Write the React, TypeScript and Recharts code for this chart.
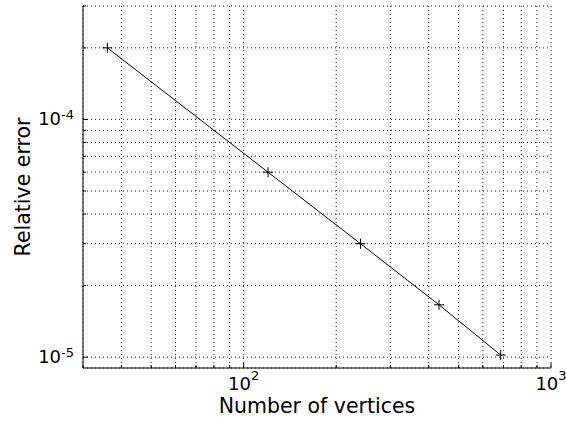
import React from 'react';
import { LineChart, Line, XAxis, YAxis, CartesianGrid } from 'recharts';

// Convergence study: relative error vs mesh size
const vertices = [36, 120, 240, 432, 686];
const relErrors = [2.0e-4, 6.0e-5, 3.0e-5, 1.66e-5, 1.02e-5];

const xTicks = [30, 40, 50, 60, 70, 80, 90, 100, 200, 300, 400, 500, 600, 700, 800, 900, 1000];
const yTicks = [1e-5, 2e-5, 3e-5, 4e-5, 5e-5, 6e-5, 7e-5, 8e-5, 9e-5, 1e-4, 2e-4, 3e-4];
const xDomain = [30, 1000];
const yDomain = [9e-6, 3e-4];

const data = vertices.map((n, i) => ({ n, err: relErrors[i] }));

const FONT = 'DejaVu Sans, sans-serif';
const MAJOR = 5;
const MINOR = 3;

const exponentOf = (v: number) => {
  const e = Math.log10(v);
  return Math.abs(e - Math.round(e)) < 1e-9 ? Math.round(e) : null;
};

const BottomTick = (props: any) => {
  const { x, y, payload } = props;
  const e = exponentOf(payload.value);
  const axisY = y - 2;
  return (
    <g>
      <line x1={x} x2={x} y1={axisY} y2={axisY - (e !== null ? MAJOR : MINOR)} stroke="#000" />
      {e !== null && (
        <text x={x} y={axisY + 22} textAnchor="middle" fontSize={18} fontFamily={FONT} fill="#000">
          <tspan>10</tspan>
          <tspan dy={-10} fontSize={13}>{e}</tspan>
        </text>
      )}
    </g>
  );
};

const LeftTick = (props: any) => {
  const { x, y, payload } = props;
  const e = exponentOf(payload.value);
  const axisX = x + 2;
  return (
    <g>
      <line x1={axisX} x2={axisX + (e !== null ? MAJOR : MINOR)} y1={y} y2={y} stroke="#000" />
      {e !== null && (
        <text x={axisX - 9} y={y + 6} textAnchor="end" fontSize={18} fontFamily={FONT} fill="#000">
          <tspan>10</tspan>
          <tspan dy={-6} fontSize={13}>{e}</tspan>
        </text>
      )}
    </g>
  );
};

const TopTick = (props: any) => {
  const { x, y, payload } = props;
  const len = exponentOf(payload.value) !== null ? MAJOR : MINOR;
  return <line x1={x} x2={x} y1={y} y2={y + len} stroke="#000" />;
};

const RightTick = (props: any) => {
  const { x, y, payload } = props;
  const len = exponentOf(payload.value) !== null ? MAJOR : MINOR;
  return <line x1={x} x2={x - len} y1={y} y2={y} stroke="#000" />;
};

const PlusDot = (props: any) => {
  const { cx, cy } = props;
  if (cx == null || cy == null) return null;
  return (
    <g stroke="#000" strokeWidth={1}>
      <line x1={cx - 5} x2={cx + 5} y1={cy} y2={cy} />
      <line x1={cx} x2={cx} y1={cy - 5} y2={cy + 5} />
    </g>
  );
};

export default function App() {
  return (
    <div style={{ position: 'absolute', left: 0, top: 0, width: 566, height: 423, background: '#fff' }}>
      <LineChart width={566} height={423} data={data} margin={{ top: 6, right: 15, bottom: 0, left: 0 }}>
        <CartesianGrid stroke="#222" strokeDasharray="1 3" />
        <XAxis
          dataKey="n"
          type="number"
          scale="log"
          domain={xDomain}
          ticks={xTicks}
          interval={0}
          allowDataOverflow
          height={55}
          tickSize={0}
          tickMargin={2}
          tickLine={false}
          axisLine={{ stroke: '#000' }}
          tick={<BottomTick />}
          label={(p: any) => {
            const vb = p.viewBox;
            return (
              <text x={vb.x + vb.width / 2} y={vb.y + 45} textAnchor="middle" fontSize={20.5} fontFamily={FONT} fill="#000">
                Number of vertices
              </text>
            );
          }}
        />
        <XAxis
          xAxisId="top"
          orientation="top"
          type="number"
          scale="log"
          domain={xDomain}
          ticks={xTicks}
          interval={0}
          allowDataOverflow
          height={0}
          tickSize={0}
          tickMargin={0}
          tickLine={false}
          axisLine={{ stroke: '#000' }}
          tick={<TopTick />}
        />
        <YAxis
          type="number"
          scale="log"
          domain={yDomain}
          ticks={yTicks}
          interval={0}
          allowDataOverflow
          width={83}
          tickSize={0}
          tickMargin={2}
          tickLine={false}
          axisLine={{ stroke: '#000' }}
          tick={<LeftTick />}
          label={(p: any) => {
            const vb = p.viewBox;
            const cy = vb.y + vb.height / 2;
            return (
              <text
                x={vb.x + 30}
                y={cy}
                transform={`rotate(-90 ${vb.x + 30} ${cy})`}
                textAnchor="middle"
                fontSize={20.5}
                fontFamily={FONT}
                fill="#000"
              >
                Relative error
              </text>
            );
          }}
        />
        <YAxis
          yAxisId="right"
          orientation="right"
          type="number"
          scale="log"
          domain={yDomain}
          ticks={yTicks}
          interval={0}
          allowDataOverflow
          width={0}
          tickSize={0}
          tickMargin={0}
          tickLine={false}
          axisLine={{ stroke: '#000' }}
          tick={<RightTick />}
        />
        <Line
          dataKey="err"
          type="linear"
          stroke="#000"
          strokeWidth={1}
          dot={<PlusDot />}
          activeDot={false}
          isAnimationActive={false}
        />
      </LineChart>
    </div>
  );
}
